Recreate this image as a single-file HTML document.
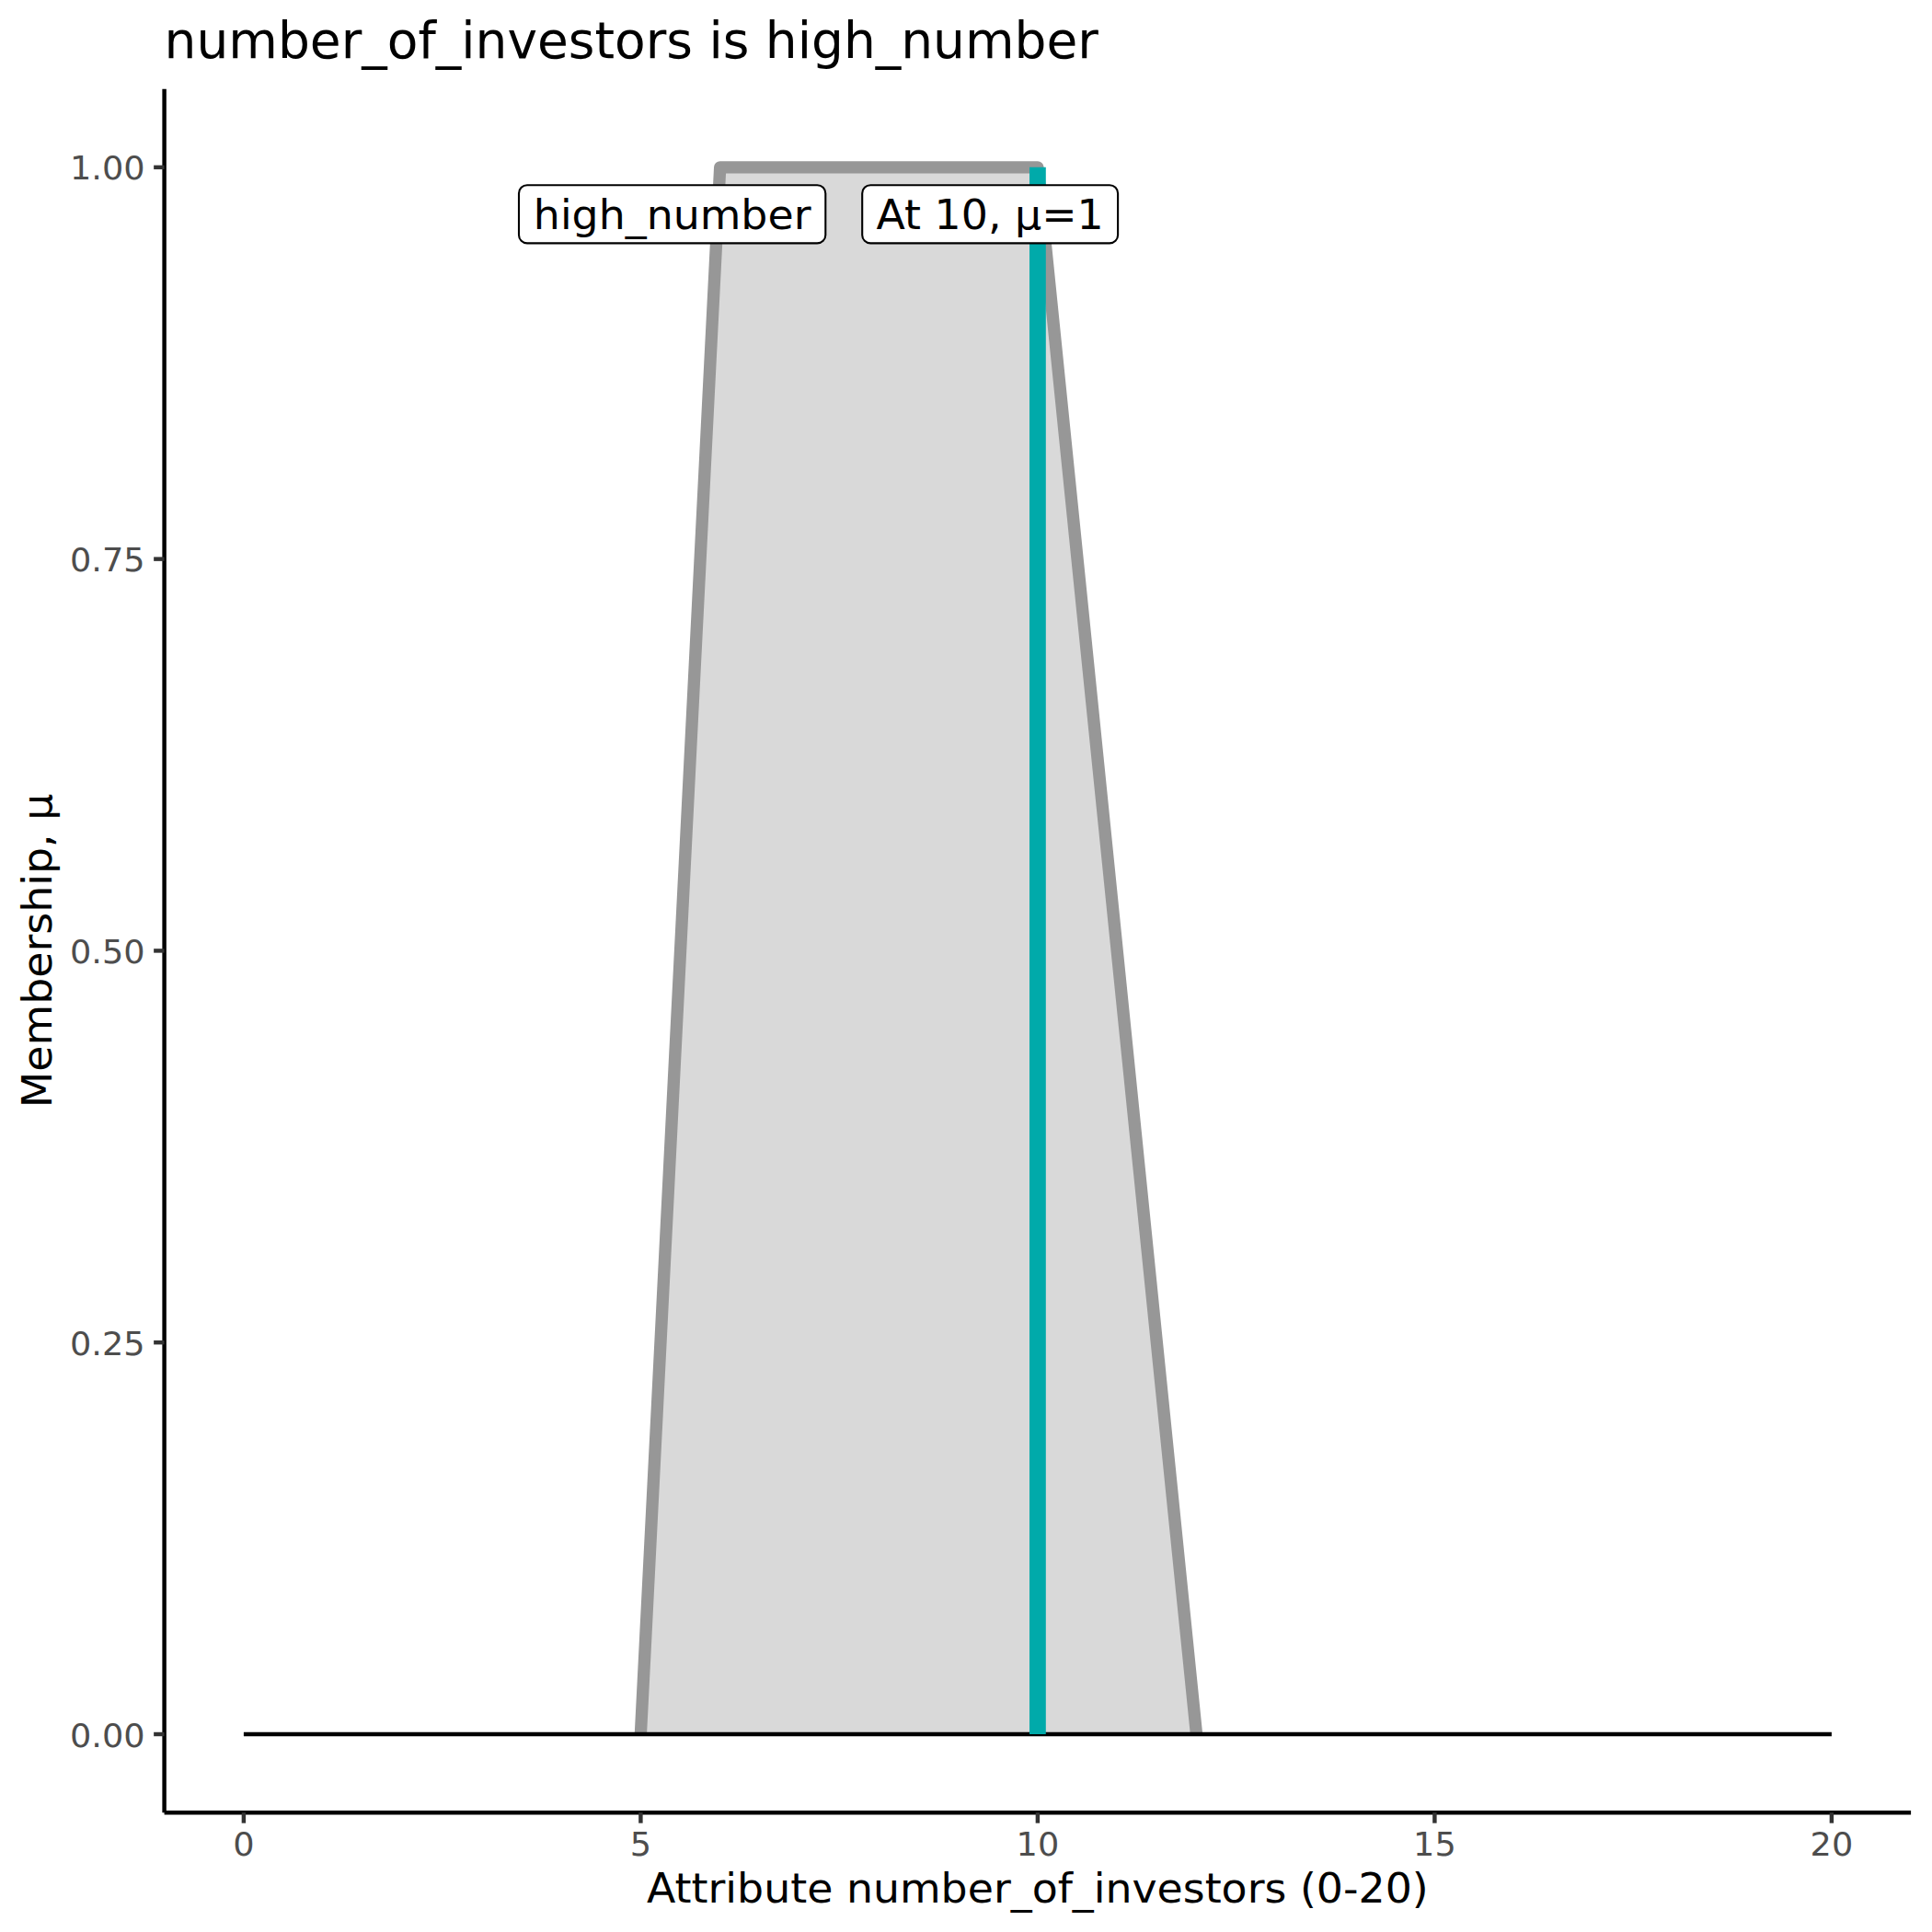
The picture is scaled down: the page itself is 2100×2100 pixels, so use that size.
<!DOCTYPE html>
<html><head><meta charset="utf-8"><title>number_of_investors is high_number</title>
<style>
html,body{margin:0;padding:0;background:#fff;}
body{width:2100px;height:2100px;overflow:hidden;}
svg{display:block;}
text{font-family:'DejaVu Sans','Liberation Sans',sans-serif;}
</style></head><body>
<svg width="2100" height="2100" viewBox="0 0 2100 2100">
<rect x="0" y="0" width="2100" height="2100" fill="#ffffff"/>
<polygon points="696.40,1885.00 782.70,181.85 1127.90,181.85 1300.50,1885.00" fill="#D9D9D9" stroke="none"/>
<polyline points="696.40,1885.00 782.70,181.85 1127.90,181.85 1300.50,1885.00" fill="none" stroke="#979797" stroke-width="13.34" stroke-linejoin="round" stroke-linecap="butt"/>
<line x1="264.90" y1="1885.00" x2="1990.90" y2="1885.00" stroke="#000" stroke-width="4.45"/>
<line x1="1127.90" y1="1885.00" x2="1127.90" y2="181.85" stroke="#00AAAA" stroke-width="17.8"/>
<rect x="564.0" y="201.2" width="333.30" height="63.20" rx="9" ry="9" fill="#fff" stroke="#000" stroke-width="2.1"/>
<text transform="translate(730.65,248.80) scale(1,0.975)" font-size="45.83" text-anchor="middle" fill="#000">high_number</text>
<rect x="937.2" y="201.2" width="277.90" height="63.20" rx="9" ry="9" fill="#fff" stroke="#000" stroke-width="2.1"/>
<text transform="translate(1076.15,248.80) scale(1,0.975)" font-size="45.83" text-anchor="middle" fill="#000">At 10, μ=1</text>
<line x1="178.6" y1="96.7" x2="178.6" y2="1970.2" stroke="#000" stroke-width="4.45"/>
<line x1="178.6" y1="1970.2" x2="2077.1" y2="1970.2" stroke="#000" stroke-width="4.45"/>
<line x1="167.14" y1="1885.00" x2="178.6" y2="1885.00" stroke="#333" stroke-width="4.45"/>
<text transform="translate(157.60,1898.50) scale(1,0.95)" font-size="36.67" text-anchor="end" fill="#4D4D4D">0.00</text>
<line x1="167.14" y1="1459.21" x2="178.6" y2="1459.21" stroke="#333" stroke-width="4.45"/>
<text transform="translate(157.60,1472.71) scale(1,0.95)" font-size="36.67" text-anchor="end" fill="#4D4D4D">0.25</text>
<line x1="167.14" y1="1033.42" x2="178.6" y2="1033.42" stroke="#333" stroke-width="4.45"/>
<text transform="translate(157.60,1046.92) scale(1,0.95)" font-size="36.67" text-anchor="end" fill="#4D4D4D">0.50</text>
<line x1="167.14" y1="607.64" x2="178.6" y2="607.64" stroke="#333" stroke-width="4.45"/>
<text transform="translate(157.60,621.14) scale(1,0.95)" font-size="36.67" text-anchor="end" fill="#4D4D4D">0.75</text>
<line x1="167.14" y1="181.85" x2="178.6" y2="181.85" stroke="#333" stroke-width="4.45"/>
<text transform="translate(157.60,195.35) scale(1,0.95)" font-size="36.67" text-anchor="end" fill="#4D4D4D">1.00</text>
<line x1="264.90" y1="1970.2" x2="264.90" y2="1981.66" stroke="#333" stroke-width="4.45"/>
<text transform="translate(264.90,2016.80) scale(1,0.95)" font-size="36.67" text-anchor="middle" fill="#4D4D4D">0</text>
<line x1="696.40" y1="1970.2" x2="696.40" y2="1981.66" stroke="#333" stroke-width="4.45"/>
<text transform="translate(696.40,2016.80) scale(1,0.95)" font-size="36.67" text-anchor="middle" fill="#4D4D4D">5</text>
<line x1="1127.90" y1="1970.2" x2="1127.90" y2="1981.66" stroke="#333" stroke-width="4.45"/>
<text transform="translate(1127.90,2016.80) scale(1,0.95)" font-size="36.67" text-anchor="middle" fill="#4D4D4D">10</text>
<line x1="1559.40" y1="1970.2" x2="1559.40" y2="1981.66" stroke="#333" stroke-width="4.45"/>
<text transform="translate(1559.40,2016.80) scale(1,0.95)" font-size="36.67" text-anchor="middle" fill="#4D4D4D">15</text>
<line x1="1990.90" y1="1970.2" x2="1990.90" y2="1981.66" stroke="#333" stroke-width="4.45"/>
<text transform="translate(1990.90,2016.80) scale(1,0.95)" font-size="36.67" text-anchor="middle" fill="#4D4D4D">20</text>
<text transform="translate(178.60,63.40)" font-size="55" text-anchor="start" fill="#000">number_of_investors is high_number</text>
<text transform="translate(1127.85,2067.80) scale(1,0.975)" font-size="45.83" text-anchor="middle" fill="#000">Attribute number_of_investors (0-20)</text>
<text transform="translate(55.90,1033.45) rotate(-90) scale(1,0.975)" font-size="45.83" text-anchor="middle" fill="#000">Membership, μ</text>
</svg>
</body></html>
